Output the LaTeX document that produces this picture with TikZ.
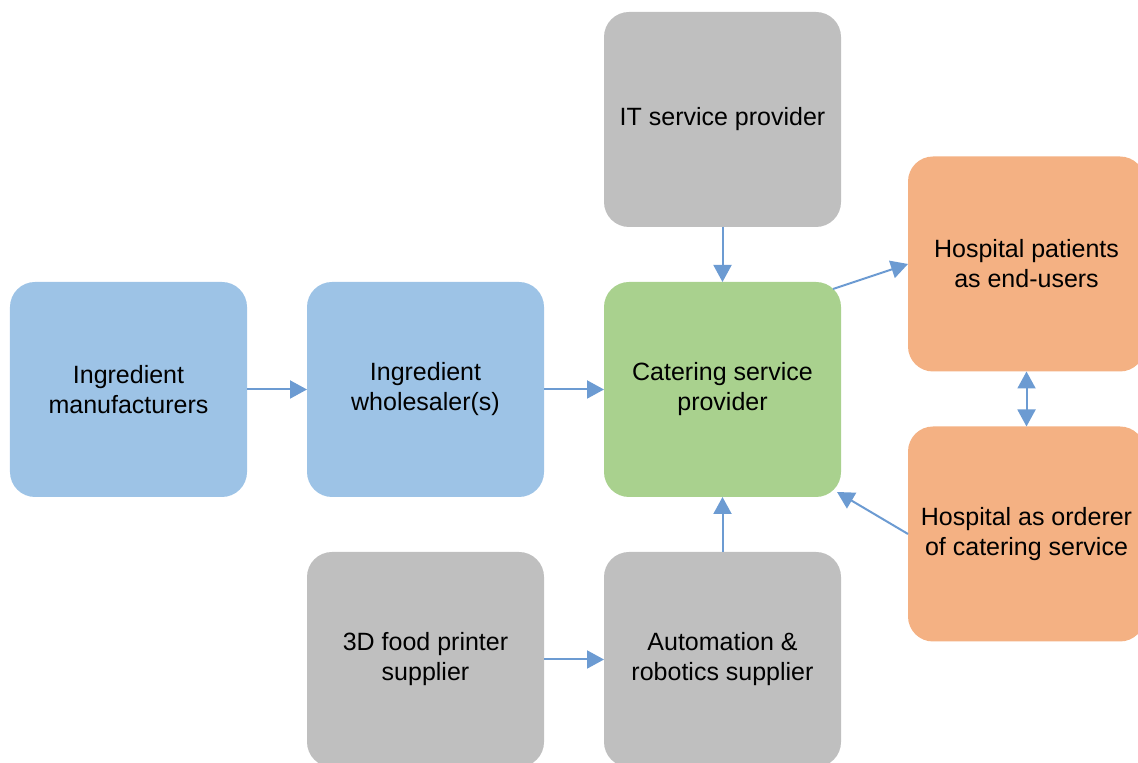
\documentclass[tikz,border=0pt]{standalone}
\usepackage{fontspec}
\setmainfont{Liberation Sans}
\usetikzlibrary{arrows.meta,positioning}

\definecolor{boxblue}{HTML}{9DC3E6}
\definecolor{boxgreen}{HTML}{A9D18E}
\definecolor{boxgray}{HTML}{BFBFBF}
\definecolor{boxorange}{HTML}{F4B183}
\definecolor{arrowblue}{HTML}{6C9BD2}

\begin{document}
\begin{tikzpicture}[->,>={Triangle[length=8.5pt,width=9pt]},line width=1pt,arrowblue,
    box/.style={rectangle,rounded corners=12.5pt,minimum width=118.5pt,minimum height=107.5pt,
        outer sep=0pt,align=center,text=black,font=\fontsize{12.5pt}{15pt}\selectfont},
    blue box/.style={box,fill=boxblue},
    green box/.style={box,fill=boxgreen},
    gray box/.style={box,fill=boxgray},
    orange box/.style={box,fill=boxorange}]

    \useasboundingbox (-64.25pt,-186.75pt) rectangle (504.75pt,194.75pt);

    \node[blue box] (man) {Ingredient\\manufacturers};
    \node[blue box] (whs) [right=30pt of man] {Ingredient\\wholesaler(s)};
    \node[green box] (cat) [right=30pt of whs] {Catering service\\provider};
    \node[gray box] (its) [above=27.5pt of cat] {IT service provider};
    \node[gray box] (aut) [below=27.5pt of cat] {Automation \&\\robotics supplier};
    \node[gray box] (prn) [left=30pt of aut] {3D food printer\\supplier};
    \node[orange box] (pat) [right=33.5pt of cat,yshift=62.75pt] {Hospital patients\\as end-users};
    \node[orange box] (ord) [below=27.5pt of pat] {Hospital as orderer\\of catering service};

    \draw (man) -- (whs);
    \draw (whs) -- (cat);
    \draw (its) -- (cat);
    \draw (aut) -- (cat);
    \draw (prn) -- (aut);
    \draw ([xshift=-4pt,yshift=-3.5pt]cat.north east) -- (pat.west);
    \draw (ord.west) -- ([xshift=-2pt,yshift=2.5pt]cat.south east);
    \draw[<->] (pat) -- (ord);
\end{tikzpicture}
\end{document}
